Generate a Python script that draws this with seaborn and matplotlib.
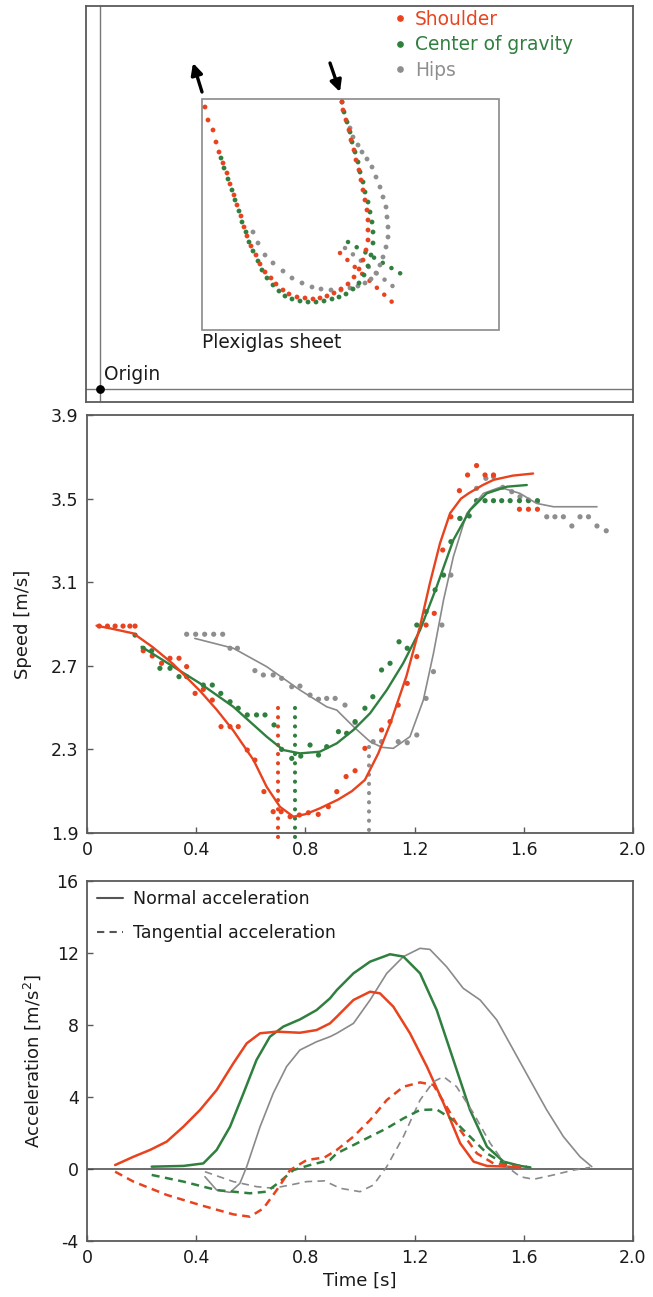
import numpy as np
import pandas as pd
import matplotlib
matplotlib.use("Agg")
import matplotlib.pyplot as plt
from matplotlib.lines import Line2D
from matplotlib.patches import Rectangle
import seaborn as sns

# ---------------- colours ----------------
RED = "#E8431E"
GREEN = "#2F7F3F"
GRAY = "#8E8E8E"
DARK = "#5A5A5A"

# ---------------- panel A: trajectories (arbitrary units, origin at 0,0) ----------------
shoulder_x = [242, 243, 246, 249, 251, 254, 256, 259, 261, 263, 265, 267, 268, 268, 268, 266, 263, 259, 254, 248,
              241, 234, 227, 220, 213, 205, 197, 189, 183, 176, 171, 165, 160, 156, 151, 147, 144, 141, 137, 134,
              130, 127, 123, 119, 116, 113, 108, 105]
shoulder_y = [287, 279, 269, 259, 249, 239, 229, 219, 209, 199, 189, 179, 169, 159, 149, 139, 129, 120, 112, 105,
              100, 96, 93, 91, 90, 91, 92, 95, 99, 105, 111, 117, 125, 134, 143, 153, 162, 173, 184, 194,
              205, 216, 226, 237, 247, 259, 269, 282]
cog_x = [242, 244, 247, 250, 252, 255, 258, 260, 263, 265, 268, 270, 272, 273, 273, 271, 268, 264, 259, 253,
         246, 239, 232, 224, 216, 208, 200, 192, 185, 179, 173, 167, 162, 158, 153, 149, 146, 142, 139, 135,
         132, 128, 124, 121]
cog_y = [287, 277, 267, 257, 247, 237, 227, 217, 207, 197, 187, 177, 167, 157, 146, 134, 123, 114, 106, 100,
         95, 92, 90, 88, 87, 87, 88, 90, 93, 98, 104, 111, 119, 128, 138, 147, 157, 167, 178, 189,
         199, 210, 221, 231]
hips_x = [250, 253, 258, 262, 267, 272, 276, 280, 283, 286, 287, 288, 288, 286, 283, 280, 276, 271, 265, 258,
          250, 241, 231, 221, 212, 202, 192, 183, 173, 165, 158, 153]
hips_y = [261, 252, 244, 237, 230, 222, 212, 202, 192, 182, 172, 162, 152, 142, 132, 124, 116, 110, 106, 103,
          101, 99, 99, 100, 102, 106, 111, 118, 126, 134, 146, 157]
# short normal segments at the lowest-speed instant (start / end points)
normal_red = ([240, 292], [136, 87])
normal_green = ([248, 308], [147, 111])
normal_gray = ([245, 300], [141, 97])
sheet_corner = (102, 59)
sheet_size = (297, 231)
arrow_up = ((102, 297), (93, 326))      # (tail, tip)
arrow_down = ((230, 326), (240, 297))   # (tail, tip)
traj_labels = ["Shoulder", "Center of gravity", "Hips"]

# ---------------- panel B: speed ----------------
sh_t = [0.045, 0.075, 0.103, 0.132, 0.157, 0.176, 0.206, 0.239, 0.273, 0.304, 0.337, 0.365, 0.396, 0.426, 0.459,
        0.491, 0.524, 0.554, 0.587, 0.615, 0.648, 0.682, 0.711, 0.744, 0.778, 0.811, 0.847, 0.884, 0.915, 0.949,
        0.982, 1.018, 1.079, 1.110, 1.140, 1.173, 1.208, 1.242, 1.272, 1.303, 1.333, 1.364, 1.394, 1.427, 1.458,
        1.489, 1.584, 1.617, 1.650]
sh_v = [2.89, 2.89, 2.89, 2.89, 2.89, 2.89, 2.772, 2.747, 2.712, 2.736, 2.736, 2.696, 2.568, 2.587, 2.536,
        2.409, 2.409, 2.409, 2.297, 2.249, 2.098, 2.002, 2.002, 1.978, 1.986, 1.997, 1.989, 2.026, 2.098, 2.170,
        2.198, 2.305, 2.393, 2.433, 2.512, 2.616, 2.744, 2.895, 2.951, 3.254, 3.413, 3.538, 3.613, 3.658, 3.613,
        3.613, 3.449, 3.449, 3.449]
cg_t = [0.176, 0.206, 0.237, 0.267, 0.304, 0.337, 0.365, 0.426, 0.459, 0.490, 0.524, 0.554, 0.587, 0.621, 0.652,
        0.685, 0.713, 0.750, 0.783, 0.817, 0.848, 0.878, 0.921, 0.951, 0.982, 1.018, 1.047, 1.079, 1.110, 1.143,
        1.173, 1.208, 1.242, 1.275, 1.306, 1.333, 1.366, 1.400, 1.427, 1.458, 1.489, 1.519, 1.550, 1.584, 1.617,
        1.650]
cg_v = [2.847, 2.784, 2.772, 2.688, 2.688, 2.648, 2.648, 2.608, 2.608, 2.568, 2.528, 2.497, 2.465, 2.465, 2.465,
        2.417, 2.300, 2.257, 2.268, 2.321, 2.273, 2.313, 2.385, 2.377, 2.433, 2.497, 2.552, 2.680, 2.712, 2.815,
        2.784, 2.895, 2.959, 3.063, 3.134, 3.294, 3.405, 3.417, 3.490, 3.49, 3.49, 3.49, 3.49, 3.49, 3.49,
        3.49]
hp_t = [0.365, 0.398, 0.431, 0.464, 0.497, 0.524, 0.551, 0.615, 0.646, 0.682, 0.713, 0.750, 0.780, 0.817, 0.848,
        0.878, 0.909, 0.945, 0.982, 1.048, 1.079, 1.140, 1.173, 1.208, 1.242, 1.269, 1.300, 1.333, 1.366, 1.427,
        1.461, 1.489, 1.523, 1.556, 1.586, 1.617, 1.650, 1.684, 1.714, 1.745, 1.776, 1.806, 1.837, 1.868, 1.902]
hp_v = [2.851, 2.851, 2.851, 2.851, 2.851, 2.784, 2.784, 2.677, 2.656, 2.656, 2.640, 2.600, 2.603, 2.560, 2.540,
        2.544, 2.544, 2.512, 2.428, 2.337, 2.337, 2.337, 2.332, 2.369, 2.544, 2.672, 2.895, 3.134, 3.405, 3.549,
        3.597, 3.605, 3.554, 3.533, 3.509, 3.493, 3.488, 3.413, 3.413, 3.413, 3.369, 3.413, 3.413, 3.369, 3.346]
# fitted speed curves
sh_fit_t = [0.035, 0.10, 0.17, 0.24, 0.316, 0.414, 0.475, 0.536, 0.61, 0.658, 0.707, 0.756, 0.80, 0.853, 0.92,
            0.97, 1.018, 1.067, 1.11, 1.17, 1.22, 1.256, 1.293, 1.33, 1.37, 1.40, 1.45, 1.49, 1.56, 1.634]
sh_fit_v = [2.892, 2.875, 2.855, 2.79, 2.708, 2.58, 2.49, 2.39, 2.249, 2.121, 2.025, 1.978, 1.99, 2.018, 2.06,
            2.10, 2.154, 2.281, 2.42, 2.65, 2.89, 3.095, 3.286, 3.43, 3.50, 3.527, 3.565, 3.59, 3.61, 3.62]
cg_fit_t = [0.20, 0.316, 0.414, 0.536, 0.658, 0.719, 0.78, 0.853, 0.915, 0.976, 1.037, 1.098, 1.158, 1.22, 1.281,
            1.342, 1.403, 1.464, 1.538, 1.611]
cg_fit_v = [2.791, 2.696, 2.616, 2.504, 2.361, 2.297, 2.281, 2.289, 2.329, 2.393, 2.473, 2.584, 2.712, 2.871, 3.079,
            3.302, 3.445, 3.525, 3.557, 3.565]
hp_fit_t = [0.395, 0.536, 0.658, 0.78, 0.878, 0.915, 0.976, 1.037, 1.08, 1.122, 1.183, 1.232, 1.269, 1.306, 1.342,
            1.391, 1.452, 1.513, 1.586, 1.647, 1.709, 1.868]
hp_fit_v = [2.831, 2.784, 2.696, 2.584, 2.504, 2.488, 2.409, 2.337, 2.31, 2.305, 2.361, 2.536, 2.759, 3.015, 3.222,
            3.429, 3.525, 3.554, 3.525, 3.477, 3.461, 3.461]
# instants of minimum speed (dotted markers)
min_t = [0.698, 0.762, 1.033]
min_top = [2.50, 2.50, 2.313]
min_bottom = [1.84, 1.84, 1.90]
speed_ticks = [1.9, 2.3, 2.7, 3.1, 3.5, 3.9]

# ---------------- panel C: acceleration ----------------
sh_an_t = [0.103, 0.170, 0.231, 0.292, 0.353, 0.414, 0.475, 0.536, 0.585, 0.634, 0.695, 0.780, 0.841, 0.890, 0.915,
           0.976, 1.037, 1.073, 1.122, 1.183, 1.245, 1.306, 1.367, 1.416, 1.465, 1.538, 1.587]
sh_an = [0.22, 0.68, 1.06, 1.52, 2.35, 3.28, 4.39, 5.87, 6.98, 7.54, 7.63, 7.57, 7.72, 8.09, 8.46,
         9.39, 9.85, 9.76, 9.02, 7.54, 5.69, 3.65, 1.43, 0.41, 0.17, 0.13, 0.09]
cg_an_t = [0.237, 0.353, 0.426, 0.475, 0.524, 0.573, 0.621, 0.670, 0.719, 0.780, 0.841, 0.890, 0.915, 0.976, 1.037,
           1.110, 1.159, 1.220, 1.281, 1.342, 1.403, 1.465, 1.526, 1.587, 1.624]
cg_an = [0.13, 0.17, 0.31, 1.06, 2.35, 4.20, 6.06, 7.35, 7.91, 8.31, 8.83, 9.48, 9.94, 10.87, 11.52,
         11.93, 11.80, 10.87, 8.83, 6.06, 3.28, 1.24, 0.41, 0.17, 0.09]
hp_an_t = [0.432, 0.475, 0.524, 0.560, 0.585, 0.634, 0.682, 0.731, 0.780, 0.841, 0.890, 0.915, 0.976, 1.037, 1.098,
           1.159, 1.220, 1.256, 1.317, 1.378, 1.440, 1.501, 1.562, 1.623, 1.684, 1.745, 1.806, 1.849]
hp_an = [-0.43, -1.17, -1.30, -0.80, 0.13, 2.35, 4.20, 5.69, 6.61, 7.07, 7.35, 7.54, 8.09, 9.39, 10.87,
         11.80, 12.26, 12.20, 11.24, 10.04, 9.39, 8.28, 6.61, 4.94, 3.28, 1.80, 0.68, 0.13]
sh_at_t = [0.103, 0.170, 0.292, 0.414, 0.536, 0.597, 0.646, 0.695, 0.744, 0.805, 0.870, 0.915, 0.976, 1.037, 1.098,
           1.159, 1.220, 1.269, 1.317, 1.367, 1.428, 1.489, 1.562, 1.587]
sh_at = [-0.15, -0.70, -1.44, -2.0, -2.52, -2.65, -2.19, -1.17, -0.06, 0.50, 0.64, 1.06, 1.80, 2.72, 3.83,
         4.57, 4.81, 4.67, 3.46, 2.17, 0.87, 0.31, 0.17, 0.13]
cg_at_t = [0.237, 0.353, 0.475, 0.597, 0.658, 0.707, 0.756, 0.817, 0.890, 0.915, 0.976, 1.037, 1.098, 1.159, 1.220,
           1.281, 1.342, 1.403, 1.465, 1.526, 1.587, 1.611]
cg_at = [-0.33, -0.70, -1.17, -1.35, -1.26, -0.70, -0.06, 0.22, 0.50, 0.87, 1.33, 1.80, 2.26, 2.81, 3.28,
         3.31, 2.72, 1.80, 0.87, 0.31, 0.17, 0.13]
hp_at_t = [0.432, 0.536, 0.621, 0.682, 0.744, 0.805, 0.870, 0.927, 1.000, 1.049, 1.098, 1.159, 1.220, 1.269, 1.306,
           1.354, 1.416, 1.477, 1.538, 1.587, 1.636, 1.709, 1.782, 1.843]
hp_at = [-0.15, -0.70, -0.98, -1.07, -0.89, -0.70, -0.66, -1.07, -1.26, -0.89, 0.13, 1.80, 3.83, 4.85, 5.13,
         4.57, 3.09, 1.43, 0.13, -0.43, -0.57, -0.33, -0.06, 0.09]
time_ticks = [0, 0.4, 0.8, 1.2, 1.6, 2.0]
acc_ticks = [-4, 0, 4, 8, 12, 16]

# ---------------- style ----------------
sns.set_theme(style="white")
plt.rcParams["font.family"] = ["DejaVu Sans"]
plt.rcParams["text.color"] = "#1a1a1a"
plt.rcParams["axes.labelcolor"] = "#1a1a1a"
plt.rcParams["xtick.color"] = "#1a1a1a"
plt.rcParams["ytick.color"] = "#1a1a1a"

W, H = 653, 1297
fig = plt.figure(figsize=(W / 100, H / 100), dpi=100)


def frac(left, top, right, bottom):
    return [left / W, 1 - bottom / H, (right - left) / W, (bottom - top) / H]


ax0 = fig.add_axes(frac(86, 6, 633, 402))
ax1 = fig.add_axes(frac(87, 415, 633, 833))
ax2 = fig.add_axes(frac(87, 881, 633, 1241))

for ax in (ax0, ax1, ax2):
    for sp in ax.spines.values():
        sp.set_color(DARK)
        sp.set_linewidth(1.3)
        sp.set_visible(True)

# ---------- panel A ----------
ax0.set_xlim(-14, 533)
ax0.set_ylim(-13, 383)
ax0.set_xticks([])
ax0.set_yticks([])
ax0.axhline(0, color="#777777", lw=1.0, zorder=1)
ax0.axvline(0, color="#777777", lw=1.0, zorder=1)
ax0.add_patch(Rectangle(sheet_corner, sheet_size[0], sheet_size[1], fill=False,
                        edgecolor="#8a8a8a", lw=1.2, zorder=1))
dot_ls = (0, (0.01, 2.2))
for (xs, ys), c in ((normal_gray, GRAY), (normal_green, GREEN), (normal_red, RED)):
    ax0.plot(xs, ys, color=c, lw=3.3, linestyle=dot_ls, dash_capstyle="round", zorder=2)
traj = pd.concat([
    pd.DataFrame({"x": hips_x, "y": hips_y, "part": traj_labels[2]}),
    pd.DataFrame({"x": cog_x, "y": cog_y, "part": traj_labels[1]}),
    pd.DataFrame({"x": shoulder_x, "y": shoulder_y, "part": traj_labels[0]}),
])
sns.scatterplot(data=traj, x="x", y="y", hue="part",
                palette={traj_labels[0]: RED, traj_labels[1]: GREEN, traj_labels[2]: GRAY},
                s=12, linewidth=0, ax=ax0, legend=False, zorder=3)
ax0.set_xlabel("")
ax0.set_ylabel("")
ax0.scatter([0], [0], s=28, color="black", zorder=4, clip_on=False)
ax0.text(4, 14, "Origin", fontsize=13.4, va="center", ha="left")
ax0.text(sheet_corner[0], 46, "Plexiglas sheet", fontsize=13.4, va="center", ha="left")
for tail, tip in (arrow_up, arrow_down):
    ax0.annotate("", xy=tip, xytext=tail,
                 arrowprops=dict(arrowstyle="-|>", color="black", lw=2.4, mutation_scale=17,
                                 shrinkA=0, shrinkB=0))
handles = [Line2D([], [], marker="o", linestyle="", color=c, markersize=3.8)
           for c in (RED, GREEN, GRAY)]
ax0.legend(handles, traj_labels, loc="upper left", bbox_to_anchor=(0.562, 0.99), frameon=False,
           labelcolor=[RED, GREEN, GRAY], fontsize=13.4, handlelength=0.7, handletextpad=0.45,
           labelspacing=0.35, borderaxespad=0, borderpad=0)

# ---------- panel B ----------
speed_pts = pd.concat([
    pd.DataFrame({"t": hp_t, "v": hp_v, "part": traj_labels[2]}),
    pd.DataFrame({"t": cg_t, "v": cg_v, "part": traj_labels[1]}),
    pd.DataFrame({"t": sh_t, "v": sh_v, "part": traj_labels[0]}),
])
pal = {traj_labels[0]: RED, traj_labels[1]: GREEN, traj_labels[2]: GRAY}
for t0, top, bot, c in zip(min_t, min_top, min_bottom, (RED, GREEN, GRAY)):
    ax1.plot([t0, t0], [top, bot], color=c, lw=3.0, linestyle=dot_ls, dash_capstyle="round",
             clip_on=False, zorder=2)
sns.scatterplot(data=speed_pts, x="t", y="v", hue="part", palette=pal, s=14, linewidth=0,
                ax=ax1, legend=False, zorder=3)
for tt, vv, c, lw in ((hp_fit_t, hp_fit_v, "#8a8a8a", 1.2), (cg_fit_t, cg_fit_v, GREEN, 1.7),
                      (sh_fit_t, sh_fit_v, RED, 1.7)):
    sns.lineplot(x=tt, y=vv, color=c, lw=lw, sort=False, estimator=None, ax=ax1, zorder=4)
ax1.set_xlim(0, 2.0)
ax1.set_ylim(1.9, 3.9)
ax1.set_xticks(time_ticks)
ax1.set_xticklabels(["0", "0.4", "0.8", "1.2", "1.6", "2.0"])
ax1.set_yticks(speed_ticks)
ax1.set_yticklabels([f"{v:.1f}" for v in speed_ticks])
ax1.tick_params(direction="in", length=4, width=1, colors=DARK, labelcolor="#1a1a1a",
                labelsize=12.5, pad=6, left=True, bottom=True)
ax1.set_xlabel("")
ax1.set_ylabel("Speed [m/s]", fontsize=13)
ax1.yaxis.set_label_coords(-0.10, 0.5)

# ---------- panel C ----------
ax2.axhline(0, color="#444444", lw=1.1, zorder=1)
for tt, aa, c, lw in ((hp_an_t, hp_an, "#8a8a8a", 1.2), (cg_an_t, cg_an, GREEN, 1.8),
                      (sh_an_t, sh_an, RED, 1.8)):
    sns.lineplot(x=tt, y=aa, color=c, lw=lw, sort=False, estimator=None, ax=ax2, zorder=3)
for tt, aa, c, lw in ((hp_at_t, hp_at, "#8a8a8a", 1.2), (cg_at_t, cg_at, GREEN, 1.8),
                      (sh_at_t, sh_at, RED, 1.8)):
    ln = sns.lineplot(x=tt, y=aa, color=c, lw=lw, sort=False, estimator=None, ax=ax2, zorder=3)
    ln.lines[-1].set_dashes((3.2, 2.2) if lw > 1.5 else (4.5, 3.2))
ax2.set_xlim(0, 2.0)
ax2.set_ylim(-4, 16)
ax2.set_xticks(time_ticks)
ax2.set_xticklabels(["0", "0.4", "0.8", "1.2", "1.6", "2.0"])
ax2.set_yticks(acc_ticks)
ax2.set_yticklabels([str(a) for a in acc_ticks])
ax2.tick_params(direction="in", length=4, width=1, colors=DARK, labelcolor="#1a1a1a",
                labelsize=12.5, pad=6, left=True, bottom=True)
ax2.set_xlabel("Time [s]", fontsize=13)
ax2.xaxis.set_label_coords(0.5, -0.085)
ax2.set_ylabel("Acceleration [m/s$^{2}$]", fontsize=13)
ax2.yaxis.set_label_coords(-0.08, 0.5)
leg_handles = [Line2D([], [], color="#555555", lw=1.5),
               Line2D([], [], color="#555555", lw=1.5, dashes=(3.5, 2.5))]
ax2.legend(leg_handles, ["Normal acceleration", "Tangential acceleration"], loc="upper left",
           bbox_to_anchor=(0.018, 0.975), frameon=False, fontsize=12.5, handlelength=1.5,
           handletextpad=0.6, labelspacing=0.95, borderaxespad=0, borderpad=0)

fig.savefig("out.png", dpi=100)
